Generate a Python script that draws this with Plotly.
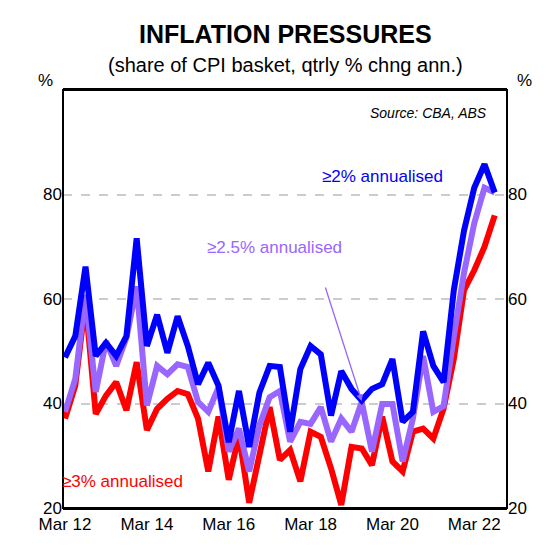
import plotly.graph_objects as go

# quarterly, Mar 2012 .. Sep 2022
quarters = list(range(43))
tick_vals = [0, 8, 16, 24, 32, 40]
tick_text = ["Mar 12", "Mar 14", "Mar 16", "Mar 18", "Mar 20", "Mar 22"]

above_2 = [48.8, 52.9, 66.2, 49.1, 51.6, 49.1, 52.9, 71.6, 51.0, 57.0,
           49.7, 56.7, 51.0, 43.7, 47.8, 43.4, 32.6, 42.4, 31.7, 42.1,
           47.2, 47.0, 34.6, 46.6, 51.0, 49.4, 37.7, 46.2, 42.8, 40.6,
           42.8, 43.7, 48.5, 36.5, 38.4, 53.8, 47.2, 44.1, 61.7, 73.1,
           81.3, 85.8, 80.4]
above_25 = [38.4, 44.7, 60.8, 42.2, 51.9, 47.2, 52.6, 62.4, 39.6, 47.2,
            45.6, 47.5, 47.0, 40.3, 38.4, 43.1, 30.8, 35.2, 27.0, 35.8,
            41.2, 42.4, 32.7, 36.5, 36.1, 39.3, 32.7, 37.1, 34.6, 40.3,
            30.8, 39.9, 39.9, 28.9, 37.1, 49.1, 38.4, 39.5, 52.8, 65.0,
            74.5, 81.3, 80.4]
above_3 = [37.1, 43.4, 59.5, 38.0, 41.5, 44.1, 38.7, 47.9, 34.9, 39.0,
           40.9, 42.4, 41.8, 37.1, 27.0, 37.5, 25.4, 33.9, 21.0, 30.8,
           39.3, 29.2, 31.1, 25.1, 34.6, 33.6, 27.6, 20.6, 31.7, 31.4,
           28.2, 37.5, 28.9, 27.0, 34.6, 35.2, 33.3, 39.0, 48.5, 61.7,
           65.5, 70.0, 76.0]

fig = go.Figure()
for ys, col in [(above_3, "#ff0000"), (above_25, "#9966ff"), (above_2, "#0000ff")]:
    fig.add_trace(go.Scatter(x=quarters, y=ys, mode="lines",
                             line=dict(color=col, width=6), showlegend=False))
fig.add_trace(go.Scatter(x=quarters, y=above_2, yaxis="y2", mode="lines",
                         line=dict(width=0), showlegend=False, hoverinfo="skip"))

font = "Liberation Sans, Arial, sans-serif"
ax = dict(range=[20, 100], tickvals=[20, 40, 60, 80], showgrid=True,
          gridcolor="#cccccc", griddash="dash", gridwidth=1.5, zeroline=False,
          ticks="", tickfont=dict(size=17, color="black"), showline=False,
          automargin=False)
fig.update_layout(
    width=551, height=548, plot_bgcolor="white", paper_bgcolor="white",
    margin=dict(l=55, r=52, t=82, b=48),
    font=dict(family=font, color="black"),
    xaxis=dict(range=[-0.2, 43.2], tickvals=tick_vals, ticktext=tick_text,
               showgrid=False, zeroline=False, ticks="", mirror=True,
               showline=True, linecolor="black", linewidth=2,
               tickfont=dict(size=17), automargin=False),
    yaxis=ax,
    yaxis2=dict(ax, overlaying="y", side="right", showgrid=False),
    shapes=[dict(type="rect", xref="paper", yref="paper", x0=0, x1=1, y0=0, y1=1,
                 line=dict(color="black", width=2))],
    annotations=[
        dict(text="<b>INFLATION PRESSURES</b>", x=0.5, y=1, xref="paper", yref="paper",
             yanchor="bottom", yshift=40, showarrow=False, font=dict(size=25)),
        dict(text="(share of CPI basket, qtrly % chng ann.)", x=0.5, y=1, xref="paper",
             yref="paper", yanchor="bottom", yshift=12, showarrow=False, font=dict(size=20)),
        dict(text="%", x=-0.06, y=1, xref="paper", yref="paper", yanchor="bottom",
             yshift=-2, showarrow=False, font=dict(size=17)),
        dict(text="%", x=1.06, y=1, xref="paper", yref="paper", yanchor="bottom",
             yshift=-2, showarrow=False, font=dict(size=17)),
        dict(text="<i>Source: CBA, ABS</i>", x=0.96, y=0.97, xref="paper", yref="paper",
             xanchor="right", yanchor="top", showarrow=False, font=dict(size=14)),
        dict(text="≥2% annualised", x=31, y=83.5, showarrow=False,
             font=dict(size=17, color="#0000ff")),
        dict(text="≥2.5% annualised", x=20.5, y=69.8, showarrow=False,
             font=dict(size=17, color="#9966ff")),
        dict(text="≥3% annualised", x=5.6, y=25, showarrow=False,
             font=dict(size=17, color="#ff0000")),
        dict(x=29, y=40.5, ax=25.4, ay=62.5, axref="x", ayref="y", text="",
             showarrow=True, arrowhead=2, arrowsize=1, arrowwidth=1.3,
             arrowcolor="#9966ff"),
    ],
)
fig.write_html("out.html")
